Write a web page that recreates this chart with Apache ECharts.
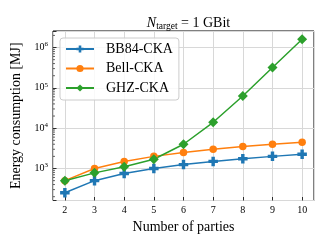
<!DOCTYPE html>
<html>
<head>
<meta charset="utf-8">
<script src="https://cdn.jsdelivr.net/npm/echarts@6/dist/echarts.min.js"></script>
<style>
html,body{margin:0;padding:0;background:#fff;}
#c{width:328px;height:246px;}
</style>
</head>
<body>
<div id="c"></div>
<script>
// ---- data ----
const parties = [2, 3, 4, 5, 6, 7, 8, 9, 10];
const bb84 = [250, 500, 750, 1000, 1250, 1500, 1750, 2000, 2250];
const bell = [500, 1000, 1500, 2000, 2500, 3000, 3500, 4000, 4500];
const ghz = [500, 780, 1100, 1700, 4000, 14000, 63000, 320000, 1600000];
const seriesNames = ['BB84-CKA', 'Bell-CKA', 'GHZ-CKA'];
const yMinorTicks = [200,300,400,500,600,700,800,900,2000,3000,4000,5000,6000,7000,8000,9000,
  20000,30000,40000,50000,60000,70000,80000,90000,200000,300000,400000,500000,600000,700000,800000,900000,2000000];
const xMin = 1.6, xMax = 10.4;
const yMin = 161, yMax = 2570000;

const FONT = '"Liberation Serif", "DejaVu Serif", serif';
const colors = ['#1f77b4', '#ff7f0e', '#2ca02c'];
const plusPath = 'path://M3.2,0H6.8V3.2H10V6.8H6.8V10H3.2V6.8H0V3.2H3.2Z';

function pairs(ys) { return parties.map((x, i) => [x, ys[i]]); }

const chart = echarts.init(document.getElementById('c'), null, {renderer: 'canvas'});
chart.setOption({
  animation: false,
  backgroundColor: '#fff',
  title: {
    text: '{i|N}{sub|target}{r| = 1 GBit}',
    left: 183.5, textAlign: 'center', top: 10,
    textStyle: {
      fontWeight: 'normal',
      rich: {
        i: {fontFamily: FONT, fontSize: 14, fontStyle: 'italic', fontWeight: 'normal', color: '#000', lineHeight: 16},
        sub: {fontFamily: FONT, fontSize: 9.5, fontWeight: 'normal', color: '#000', verticalAlign: 'bottom'},
        r: {fontFamily: FONT, fontSize: 14, fontWeight: 'normal', color: '#000', lineHeight: 16}
      }
    }
  },
  grid: {
    left: 53, right: 14, top: 31, bottom: 45.5,
    show: true, borderColor: '#000', borderWidth: 1, backgroundColor: 'transparent'
  },
  legend: {
    orient: 'vertical', left: 60, top: 38,
    data: seriesNames,
    itemWidth: 28, itemHeight: 9, itemGap: 5.5,
    padding: [4, 6, 5, 5],
    backgroundColor: 'rgba(255,255,255,0.85)',
    borderColor: '#cccccc', borderWidth: 1, borderRadius: 3,
    textStyle: {fontFamily: FONT, fontSize: 14, color: '#000', lineHeight: 14, padding: [0, 0, 0, 7]}
  },
  xAxis: {
    type: 'value', min: xMin, max: xMax, splitNumber: 8,
    name: 'Number of parties', nameLocation: 'middle', nameGap: 17,
    nameTextStyle: {fontFamily: FONT, fontSize: 14, color: '#000'},
    axisLine: {show: false},
    axisTick: {show: true, inside: true, length: 3.5, lineStyle: {color: '#000', width: 0.8}},
    axisLabel: {
      fontFamily: FONT, fontSize: 10, color: '#000', margin: 5,
      showMinLabel: false, showMaxLabel: false,
      formatter: v => (Math.abs(v - Math.round(v)) < 1e-9 ? String(Math.round(v)) : '')
    },
    splitLine: {show: true, lineStyle: {color: '#d8d8d8', width: 1}}
  },
  yAxis: {
    type: 'log', logBase: 10, min: yMin, max: yMax,
    name: 'Energy consumption [MJ]', nameLocation: 'middle', nameGap: 24.5,
    nameTextStyle: {fontFamily: FONT, fontSize: 14, color: '#000'},
    axisLine: {show: false},
    axisTick: {show: true, inside: true, length: 3.5, lineStyle: {color: '#000', width: 0.8}},
    axisLabel: {
      color: '#000', margin: 5,
      formatter: function (v) {
        const e = Math.log10(v);
        if (Math.abs(e - Math.round(e)) > 1e-6) return '';
        return '{b|10}{s|' + Math.round(e) + '}';
      },
      rich: {
        b: {fontFamily: FONT, fontSize: 10, color: '#000', lineHeight: 13},
        s: {fontFamily: FONT, fontSize: 7, color: '#000', verticalAlign: 'top'}
      }
    },
    splitLine: {show: true, lineStyle: {color: '#d8d8d8', width: 1}}
  },
  series: [
    {
      name: seriesNames[0], type: 'line', data: pairs(bb84),
      color: colors[0], lineStyle: {width: 1.5}, symbol: plusPath, symbolSize: 9.5,
      itemStyle: {color: colors[0]}, z: 3
    },
    {
      name: seriesNames[1], type: 'line', data: pairs(bell),
      color: colors[1], lineStyle: {width: 1.5}, symbol: 'circle', symbolSize: 7.5,
      itemStyle: {color: colors[1]}, z: 3
    },
    {
      name: seriesNames[2], type: 'line', data: pairs(ghz),
      color: colors[2], lineStyle: {width: 1.5}, symbol: 'diamond', symbolSize: 10,
      itemStyle: {color: colors[2]}, z: 3
    },
    {
      type: 'custom', silent: true, z: 2,
      data: yMinorTicks.map(v => [xMin, v]),
      renderItem: function (params, api) {
        const p = api.coord([api.value(0), api.value(1)]);
        return {
          type: 'line',
          shape: {x1: p[0], y1: p[1], x2: p[0] + 2, y2: p[1]},
          style: {stroke: '#000', lineWidth: 0.6}
        };
      }
    }
  ]
});
</script>
</body>
</html>
